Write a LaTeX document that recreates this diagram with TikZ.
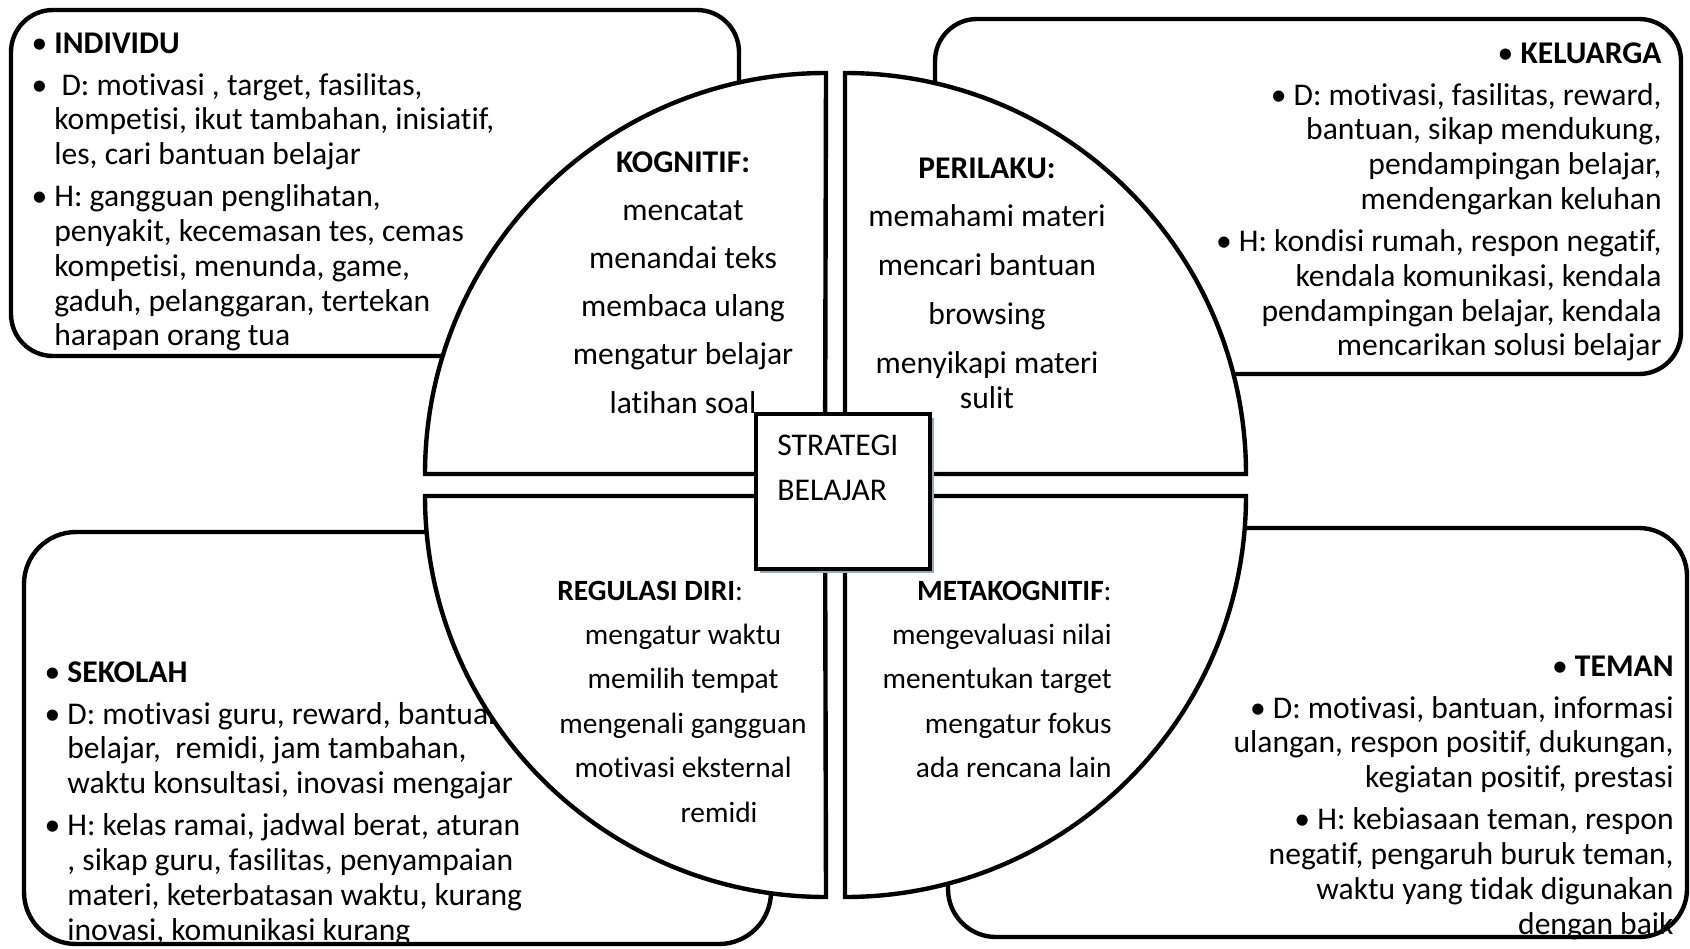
\documentclass[tikz,border=0pt]{standalone}
\usepackage{fontspec}
\setmainfont{Carlito}[RawFeature={-liga;-clig;-calt;-dlig}]
\definecolor{shadowblue}{RGB}{150,168,190}
\begin{document}
\begin{tikzpicture}[x=0.5pt,y=-0.5pt,
  frame/.style={draw=black,line width=2.2pt,fill=white},
  quad/.style={draw=black,line width=2.2pt,fill=white,line join=miter},
  txt/.style={inner sep=0pt,font=\fontsize{15.8}{17.4}\selectfont},
  txts/.style={inner sep=0pt,font=\fontsize{14.7}{16.2}\selectfont},
]
\useasboundingbox (0,0) rectangle (1690,948);

% outer rounded boxes
\draw[frame,rounded corners=21pt] (11,10) rectangle (739,356);
\draw[frame,rounded corners=21pt] (935,19) rectangle (1681,374);
\draw[frame,rounded corners=26pt] (24,532) rectangle (771,944);
\draw[frame,rounded corners=24pt] (948,528) rectangle (1687,937);

% box texts
\node[txt,anchor=base west] (indiv) at (54,53) {\begin{tabular}[t]{@{}l@{}}
\llap{•\ }\textbf{INDIVIDU}\\[3.6pt]
\llap{•\ }\ D: motivasi , target, fasilitas,\\
kompetisi, ikut tambahan, inisiatif,\\
les, cari bantuan belajar\\[3.6pt]
\llap{•\ }H: gangguan penglihatan,\\
penyakit, kecemasan tes, cemas\\
kompetisi, menunda, game,\\
gaduh, pelanggaran, tertekan\\
harapan orang tua
\end{tabular}};

\node[txt,anchor=base east] (kelu) at (1662,63) {\begin{tabular}[t]{@{}r@{}}
• \textbf{KELUARGA}\\[3.6pt]
• D: motivasi, fasilitas, reward,\\
bantuan, sikap mendukung,\\
pendampingan belajar,\\
mendengarkan keluhan\\[3.6pt]
• H: kondisi rumah, respon negatif,\\
kendala komunikasi, kendala\\
pendampingan belajar, kendala\\
mencarikan solusi belajar
\end{tabular}};

\node[txt,anchor=base west] (seko) at (67,682) {\begin{tabular}[t]{@{}l@{}}
\llap{•\ }\textbf{SEKOLAH}\\[3.6pt]
\llap{•\ }D: motivasi guru, reward, bantuan\\
belajar,\ \ remidi, jam tambahan,\\
waktu konsultasi, inovasi mengajar\\[3.6pt]
\llap{•\ }H: kelas ramai, jadwal berat, aturan\\
, sikap guru, fasilitas, penyampaian\\
materi, keterbatasan waktu, kurang\\
inovasi, komunikasi kurang
\end{tabular}};

\node[txt,anchor=base east] (teman) at (1674,676) {\begin{tabular}[t]{@{}r@{}}
• \textbf{TEMAN}\\[3.6pt]
• D: motivasi, bantuan, informasi\\
ulangan, respon positif, dukungan,\\
kegiatan positif, prestasi\\[3.6pt]
• H: kebiasaan teman, respon\\
negatif, pengaruh buruk teman,\\
waktu yang tidak digunakan\\
dengan baik
\end{tabular}};

% four quadrants of the circle
\draw[quad] (825,474) -- (425,474) arc[start angle=180,end angle=90,radius=200.5pt] -- cycle;
\draw[quad] (845,474) -- (845,73) arc[start angle=90,end angle=0,radius=200.5pt] -- cycle;
\draw[quad] (825,496) -- (425,496) arc[start angle=180,end angle=270,radius=200.5pt] -- cycle;
\draw[quad] (845,496) -- (1246,496) arc[start angle=0,end angle=-90,radius=200.5pt] -- cycle;

% quadrant texts
\node[txt,anchor=base] (kogn) at (683,172) {\begin{tabular}[t]{@{}c@{}}
\textbf{KOGNITIF:}\\[6.7pt]
mencatat\\[6.7pt]
menandai teks\\[6.7pt]
membaca ulang\\[6.7pt]
mengatur belajar\\[6.7pt]
latihan soal
\end{tabular}};

\node[txt,anchor=base] (peri) at (987,178) {\begin{tabular}[t]{@{}c@{}}
\textbf{PERILAKU:}\\[7pt]
memahami materi\\[7pt]
mencari bantuan\\[7pt]
browsing\\[7pt]
menyikapi materi\\
sulit
\end{tabular}};

\node[txts,anchor=base west] (regh) at (557,600) {\textbf{REGULASI DIRI}:};
\node[txts,anchor=base] (regi) at (683,644.4) {\begin{tabular}[t]{@{}c@{}}
mengatur waktu\\[6pt]
memilih tempat\\[6pt]
mengenali gangguan\\[6pt]
motivasi eksternal
\end{tabular}};
\node[txts,anchor=base] (remi) at (719,822) {remidi};

\node[txts,anchor=base east] (meta) at (1112,600) {\begin{tabular}[t]{@{}r@{}}
\textbf{METAKOGNITIF}:\\[6pt]
mengevaluasi nilai\\[6pt]
menentukan target\\[6pt]
mengatur fokus\\[6pt]
ada rencana lain
\end{tabular}};

% centre box
\fill[shadowblue] (760,418) rectangle (934,573);
\draw[fill=white,line width=1.7pt] (756,414) rectangle (930,569);
\node[txt,anchor=base west] (strat) at (777,455) {\begin{tabular}[t]{@{}l@{}}
STRATEGI\\[5.1pt]
BELAJAR
\end{tabular}};
\end{tikzpicture}
\end{document}
